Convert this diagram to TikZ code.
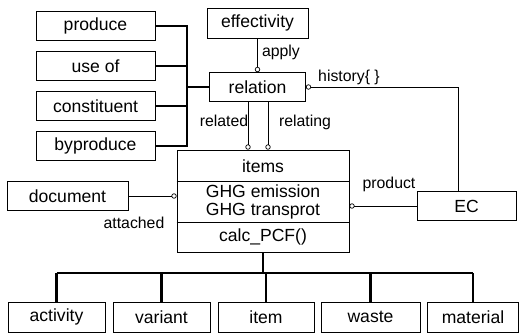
\documentclass[tikz,border=0pt]{standalone}
\usepackage{fontspec}
\setmainfont{Liberation Sans}
\usetikzlibrary{arrows.meta}

\begin{document}
\begin{tikzpicture}[x=0.03cm,y=-0.03cm,
    box/.style={draw,line width=0.6pt,inner sep=0pt,minimum height=0.87cm,
      font=\fontsize{15}{18}\selectfont},
    rowtext/.style={inner sep=0pt,font=\fontsize{15}{18}\selectfont},
    lbl/.style={inner sep=1pt,font=\fontsize{13.5}{16}\selectfont},
    link/.style={line width=0.6pt},
    bus/.style={line width=1.8pt},
    ring/.tip={Circle[open,length=4.5pt,line width=0.6pt]}]
    \useasboundingbox (0,0) rectangle (521,334);

    % left column
    \node[box,minimum width=3.57cm] (produce) at (95.5,26) {produce};
    \node[box,minimum width=3.57cm] (useof) at (95.5,66) {use of};
    \node[box,minimum width=3.57cm] (constituent) at (95.5,106) {constituent};
    \node[box,minimum width=3.57cm] (byproduce) at (95.5,146) {byproduce};

    \node[box,minimum width=3.03cm,minimum height=0.9cm] (effectivity) at (257.5,23) {effectivity};
    \node[box,minimum width=2.88cm] (relation) at (257.5,87) {relation};

    % class box
    \node[draw,link,inner sep=0pt,minimum width=5.16cm,minimum height=3.06cm] (items) at (263,201) {};
    \node[rowtext] (itemsname) at (263,166) {items};
    \node[rowtext] (ghgemis) at (263,191) {GHG emission};
    \node[rowtext] (ghgtrans) at (263,211) {GHG transprot};
    \node[rowtext] (calcpcf) at (263,237) {calc\_PCF()};
    \draw[link] (items.west |- 0,181) -- (items.east |- 0,181);
    \draw[link] (items.west |- 0,222) -- (items.east |- 0,222);

    \node[box,minimum width=3.63cm] (document) at (67.5,196) {document};
    \node[box,minimum width=2.97cm] (EC) at (466.5,206) {EC};

    % bottom row
    \node[box,minimum width=2.91cm,minimum height=0.9cm] (activity) at (56.5,317) {activity};
    \node[box,minimum width=2.91cm,minimum height=0.9cm] (variant) at (161.5,317) {variant};
    \node[box,minimum width=2.88cm,minimum height=0.9cm] (item) at (266,317) {item};
    \node[box,minimum width=2.97cm,minimum height=0.9cm] (waste) at (370.5,317) {waste};
    \node[box,minimum width=2.73cm,minimum height=0.9cm] (material) at (473,317) {material};

    % connectors
    \draw[bus] (produce.east) -| (relation.west -| 187,0) |- (byproduce.east);
    \draw[bus] (useof.east) -- (useof.east -| 187,0);
    \draw[bus] (constituent.east) -- (constituent.east -| 187,0);
    \draw[bus] (relation.west) -- (relation.west -| 187,0);

    \draw[link,-ring] (effectivity) -- (relation);
    \draw[link,ring-] (relation.east) -| (EC.north -| 458,0);
    \draw[link,-ring] (relation.south -| 248,0) -- (items.north -| 248,0);
    \draw[link,-ring] (relation.south -| 268,0) -- (items.north -| 268,0);
    \draw[link,-ring] (document.east) -- (document.east -| items.west);
    \draw[link,ring-] (items.east |- EC.west) -- (EC.west);

    \coordinate (split) at (263,273);
    \draw[bus] (items.south) -- (split);
    \draw[bus] (activity.north |- split) -- (material.north |- split);
    \foreach \leaf in {activity,variant,item,waste,material}
      \draw[bus] (\leaf.north |- split) -- (\leaf.north);

    % labels
    \node[lbl] (applylbl) at (281,52) {apply};
    \node[lbl] (historylbl) at (349,77) {history\{ \}};
    \node[lbl] (relatedlbl) at (224,121) {related};
    \node[lbl] (relatinglbl) at (305,122) {relating};
    \node[lbl] (productlbl) at (389,184) {product};
    \node[lbl] (attachedlbl) at (134,223) {attached};
\end{tikzpicture}
\end{document}
